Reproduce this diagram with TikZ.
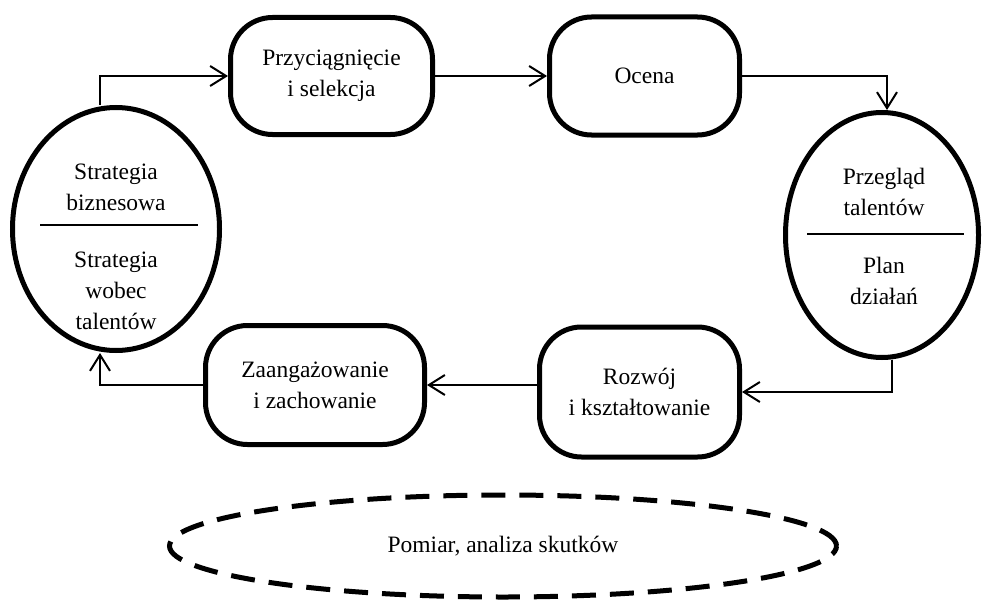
\documentclass[tikz,border=0pt]{standalone}
\usepackage{fontspec}
\setmainfont{Liberation Serif}
\usetikzlibrary{shapes.geometric,arrows.meta}

\begin{document}
\begin{tikzpicture}[
      x=1pt, y=-1pt,
      every node/.style={font=\fontsize{23.5}{31}\selectfont},
      stage/.style={
        draw, line width=5pt, rounded corners=42pt,
        align=center, inner sep=0pt
      },
      oval/.style={
        ellipse, draw, line width=5pt, inner sep=0pt, align=center
      },
      txt/.style={align=center, inner sep=0pt},
      conn/.style={-{Straight Barb[length=16pt,width=20pt]}, line width=2pt},
      divider/.style={line width=2.5pt}
    ]
    \useasboundingbox (0,0) rectangle (982,602);

    % Side ovals with their split texts.
    \node[oval, minimum width=207pt, minimum height=243pt] (strat)  at (116,229) {};
    \node[oval, minimum width=193pt, minimum height=245pt] (review) at (882,235) {};

    \node[txt] (stratA)  at (116,187) {Strategia\\biznesowa};
    \node[txt] (stratB)  at (116,291) {Strategia\\wobec\\talentów};
    \node[txt] (reviewA) at (884,192) {Przegląd\\talentów};
    \node[txt] (reviewB) at (884,281) {Plan\\działań};

    \draw[divider] ([shift={(-76,-4)}]strat.center)  -- ([shift={(82,-4)}]strat.center);
    \draw[divider] ([shift={(-75,-1)}]review.center) -- ([shift={(82,-1)}]review.center);

    % Stages of the cycle.
    \node[stage, minimum width=202pt, minimum height=117pt] (attract) at (331.5,76) {Przyciągnięcie\\i selekcja};
    \node[stage, minimum width=190pt, minimum height=118pt] (assess)  at (644.5,76) {Ocena};
    \node[stage, minimum width=200pt, minimum height=130pt] (develop) at (639.5,392) {Rozwój\\i kształtowanie};
    \node[stage, minimum width=219pt, minimum height=119pt] (engage)  at (315,385)   {Zaangażowanie\\i zachowanie};

    % Measurement below.
    \node[oval, dashed, dash pattern=on 24pt off 14pt,
          minimum width=667pt, minimum height=102pt] (measure) at (503,546) {Pomiar, analiza skutków};

    % Cycle arrows.
    \draw[conn] ([xshift=-16pt]strat.north) |- (attract.west);
    \draw[conn] (attract.east) -- (assess.west);
    \draw[conn] (assess.east) -| ([xshift=5pt]review.north);
    \draw[conn] ([xshift=10pt]review.south) |- (develop.east);
    \draw[conn] (develop.west |- engage.east) -- (engage.east);
    \draw[conn] (engage.west) -| ([xshift=-16pt]strat.south);
  \end{tikzpicture}
\end{document}
